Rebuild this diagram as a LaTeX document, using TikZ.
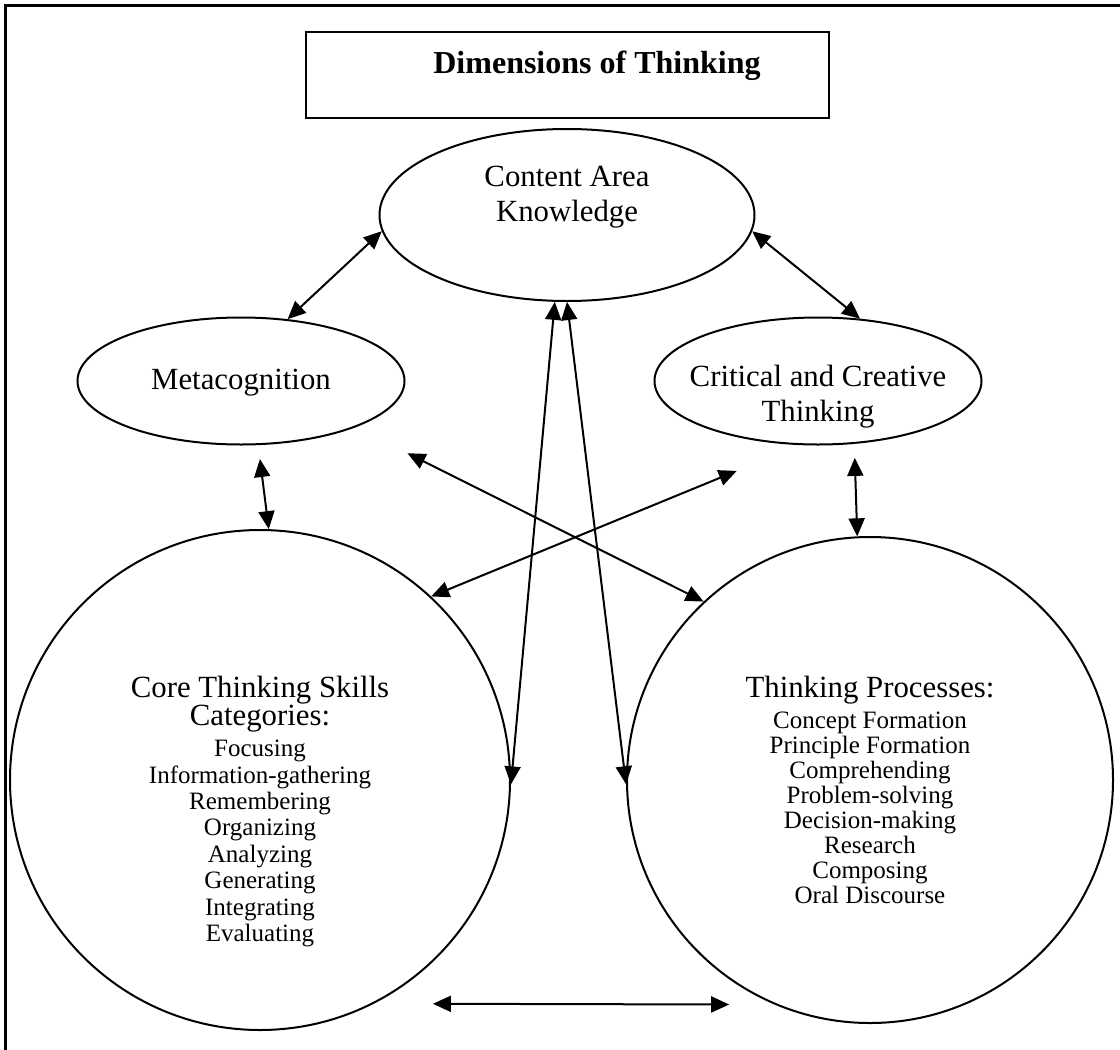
\documentclass[tikz,border=0pt]{standalone}
\usepackage{fontspec}
\setmainfont{Liberation Serif}
\usetikzlibrary{shapes.geometric,arrows.meta}

\tikzset{
  bubble/.style={draw, ellipse, line width=1pt, inner sep=0pt},
  ring/.style={draw, circle, line width=1pt, inner sep=0pt},
  link/.style={{Triangle[length=9pt,width=8pt]}-{Triangle[length=9pt,width=8pt]}, line width=1pt},
  bigtext/.style={font=\fontsize{15.4}{14}\selectfont, align=center},
  smalltext/.style={font=\fontsize{12.5}{13}\selectfont, align=center}
}

\begin{document}
\begin{tikzpicture}[x=0.5pt,y=-0.5pt]
    \useasboundingbox (0,0) rectangle (1120,1050);
    \draw [line width=1.5pt] (5,1050) -- (5,5) -- (1120,5);

    % title
    \node [draw, line width=1pt, minimum width=261.5pt, minimum height=43pt] (title) at (567.5,75) {};
    \node [font=\fontsize{16}{19}\selectfont\bfseries] (titletext) at (597,66) {Dimensions of Thinking};

    % the five dimensions
    \node [bubble, minimum width=187.5pt, minimum height=86pt] (cak) at (567,215) {};
    \node [bigtext, font=\fontsize{15.4}{17.5}\selectfont] (caktext) at (567,197) {Content Area\\Knowledge};
    \node [bubble, minimum width=163.5pt, minimum height=63.5pt] (meta) at (241,381) {};
    \node [bigtext] (metatext) at (241,383) {Metacognition};
    \node [bubble, minimum width=163.5pt, minimum height=63.5pt] (cct) at (818,381) {};
    \node [bigtext, font=\fontsize{15.4}{17.5}\selectfont] (ccttext) at (818,397) {Critical and Creative\\Thinking};
    \node [ring, minimum size=250pt] (core) at (260,780) {};
    \node [ring, minimum size=243pt] (proc) at (870,780) {};
    \node [bigtext] (coretext) at (260,704) {Core Thinking Skills\\Categories:};
    \node [smalltext, font=\fontsize{12.5}{13.2}\selectfont, anchor=north] (corelist) at (260,733) {Focusing\\Information-gathering\\Remembering\\Organizing\\Analyzing\\Generating\\Integrating\\Evaluating};
    \node [bigtext] (proctext) at (870,690) {Thinking Processes:};
    \node [smalltext, font=\fontsize{12.5}{12.5}\selectfont, anchor=north] (proclist) at (870,705) {Concept Formation\\Principle Formation\\Comprehending\\Problem-solving\\Decision-making\\Research\\Composing\\Oral Discourse};

    % links
    \draw [link] (cak.185) -- (meta.53);
    \draw [link] (cak.355) -- (cct.56);
    \draw [link, shorten <=7pt] (meta.-75) -- (core.88);
    \draw [link, shorten <=7pt] (cct.-60) -- (proc.93);
    \draw [link, shorten <=29pt] (meta.-22.3) -- (proc.133.5);
    \draw [link, shorten <=34pt] (cct.254.6) -- (core.47.9);
    \draw [link] (cak.262) -- (core.-1.6);
    \draw [link] (cak.270) -- (proc.181.7);
    \draw [link, shorten <=29.5pt, shorten >=22.75pt] (core.-63.1) -- (proc.-113.4);
\end{tikzpicture}
\end{document}
